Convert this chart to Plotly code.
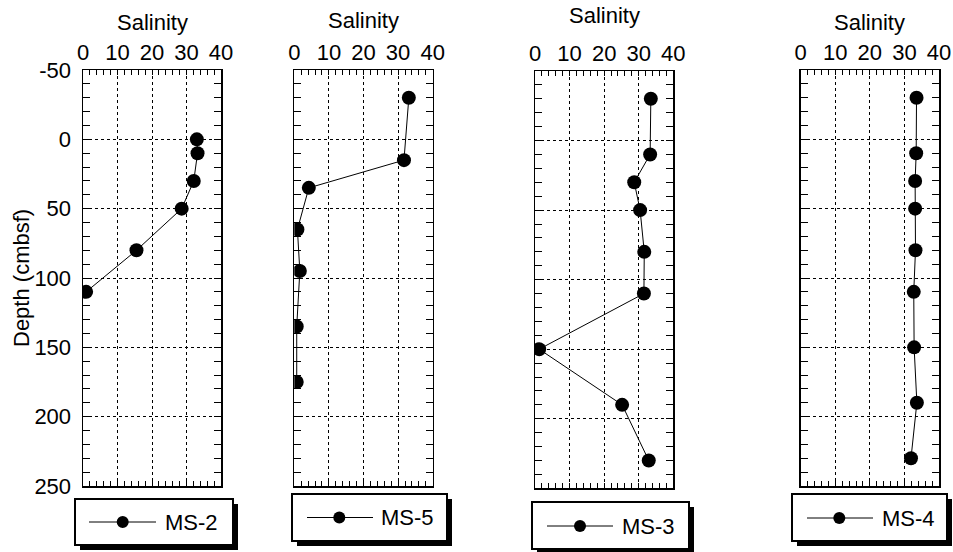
import plotly.graph_objects as go

W, H = 953, 552

# ---------------- data ----------------
ms2_depth = [0, 10, 30, 50, 80, 110]
ms2_sal = [33.0, 33.2, 32.1, 28.6, 15.5, 0.9]

ms5_depth = [-30, 15, 35, 65, 95, 135, 175]
ms5_sal = [33.1, 31.7, 4.2, 0.9, 1.6, 0.7, 0.7]

ms3_depth = [-30, 10, 30, 50, 80, 110, 150, 190, 230]
ms3_sal = [33.5, 33.3, 28.7, 30.4, 31.6, 31.5, 1.2, 25.2, 32.9]

ms4_depth = [-30, 10, 30, 50, 80, 110, 150, 190, 230]
ms4_sal = [33.5, 33.4, 33.1, 33.1, 33.2, 32.7, 32.8, 33.6, 31.9]

series_names = ["MS-2", "MS-5", "MS-3", "MS-4"]
x_tick_vals = [0, 10, 20, 30, 40]
x_tick_text = ["0", "10", "20", "30", "40"]
y_tick_vals = [-50, 0, 50, 100, 150, 200, 250]
y_tick_text = ["-50", "0", "50", "100", "150", "200", "250"]
x_title = "Salinity"
y_title = "Depth (cmbsf)"

series = [(ms2_sal, ms2_depth), (ms5_sal, ms5_depth), (ms3_sal, ms3_depth), (ms4_sal, ms4_depth)]

# ---------------- layout geometry (pixels) ----------------
panels = [
    dict(x=(83, 221), y=(70, 486), title_y=23),
    dict(x=(294.3, 432.7), y=(70, 486), title_y=20),
    dict(x=(535, 673.3), y=(71, 488.3), title_y=15.5),
    dict(x=(800.7, 939), y=(70, 486), title_y=23),
]
legends = [
    dict(box=(75, 499, 233, 545), line=(89, 156), ly=522, mx=122.7, tx=163),
    dict(box=(292, 494, 447, 541), line=(307, 373), ly=517.5, mx=339.3, tx=379),
    dict(box=(532, 502, 689, 549), line=(547, 613), ly=526, mx=580, tx=619.5),
    dict(box=(792, 494, 947, 541), line=(807, 873), ly=518, mx=839.3, tx=879.5),
]

FONT = "Arial, Liberation Sans, Helvetica, sans-serif"
FS = 22


def px(x):
    return x / W


def py(y):
    return 1 - y / H


fig = go.Figure()
layout = dict(
    width=W, height=H,
    margin=dict(l=0, r=0, t=0, b=0, autoexpand=False),
    paper_bgcolor="white", plot_bgcolor="white",
    showlegend=False,
    font=dict(family=FONT, size=FS, color="black"),
)

shapes = []
annotations = []

for i, (p, (sal, dep), name, lg) in enumerate(zip(panels, series, series_names, legends)):
    k = "" if i == 0 else str(i + 1)
    fig.add_trace(go.Scatter(
        x=sal, y=dep, name=name, mode="lines+markers",
        xaxis="x" + k, yaxis="y" + k,
        line=dict(color="black", width=1),
        marker=dict(color="black", size=14),
    ))
    layout["xaxis" + k] = dict(
        domain=[px(p["x"][0]), px(p["x"][1])],
        anchor="y" + k, side="top", range=[0, 40],
        tickmode="array", tickvals=x_tick_vals, ticktext=x_tick_text,
        ticks="inside", ticklen=5, tickwidth=1, tickcolor="black",
        minor=dict(dtick=2, ticks="inside", ticklen=5, tickwidth=1, tickcolor="black", showgrid=False),
        showline=True, linecolor="black", linewidth=1.5, mirror="ticks",
        showgrid=True, gridcolor="black", gridwidth=1, griddash="3px,3px",
        zeroline=False, tickfont=dict(size=FS), ticklabelstandoff=0,
        automargin=False, fixedrange=True,
    )
    layout["yaxis" + k] = dict(
        domain=[py(p["y"][1]), py(p["y"][0])],
        anchor="x" + k, range=[250, -50],
        tickmode="array", tickvals=y_tick_vals, ticktext=y_tick_text,
        ticks="inside", ticklen=7, tickwidth=1, tickcolor="black",
        minor=dict(dtick=10, ticks="inside", ticklen=7, tickwidth=1, tickcolor="black", showgrid=False),
        showline=True, linecolor="black", linewidth=1.5, mirror="ticks",
        showgrid=True, gridcolor="black", gridwidth=1, griddash="3px,3px",
        zeroline=False, showticklabels=(i == 0), tickfont=dict(size=FS),
        ticklabelstandoff=6, automargin=False, fixedrange=True,
    )
    # axis title
    annotations.append(dict(
        text=x_title, xref="paper", yref="paper",
        x=px((p["x"][0] + p["x"][1]) / 2), y=py(p["title_y"]),
        xanchor="center", yanchor="middle", showarrow=False,
        font=dict(size=FS),
    ))
    # legend box with shadow
    x0, y0, x1, y1 = lg["box"]
    shapes.append(dict(type="rect", xref="paper", yref="paper",
                       x0=px(x0 + 5), x1=px(x1 + 5), y0=py(y1 + 5), y1=py(y0 + 5),
                       fillcolor="black", line=dict(width=0), layer="above"))
    shapes.append(dict(type="rect", xref="paper", yref="paper",
                       x0=px(x0), x1=px(x1), y0=py(y1), y1=py(y0),
                       fillcolor="white", line=dict(color="black", width=2), layer="above"))
    shapes.append(dict(type="line", xref="paper", yref="paper",
                       x0=px(lg["line"][0]), x1=px(lg["line"][1]), y0=py(lg["ly"]), y1=py(lg["ly"]),
                       line=dict(color="black", width=1), layer="above"))
    r = 6
    shapes.append(dict(type="circle", xref="paper", yref="paper",
                       x0=px(lg["mx"] - r), x1=px(lg["mx"] + r), y0=py(lg["ly"] + r), y1=py(lg["ly"] - r),
                       fillcolor="black", line=dict(color="black", width=0), layer="above"))
    annotations.append(dict(
        text=name, xref="paper", yref="paper",
        x=px(lg["tx"]), y=py(lg["ly"]), xanchor="left", yanchor="middle",
        showarrow=False, font=dict(size=FS),
    ))

annotations.append(dict(
    text=y_title, xref="paper", yref="paper",
    x=px(21), y=py(278), xanchor="center", yanchor="middle",
    textangle=-90, showarrow=False, font=dict(size=FS),
))

layout["shapes"] = shapes
layout["annotations"] = annotations
fig.update_layout(**layout)
fig.write_html(
    "out.html",
    config={"displayModeBar": False, "staticPlot": True},
    post_script="document.body.style.margin='0';document.body.style.overflow='hidden';",
)
